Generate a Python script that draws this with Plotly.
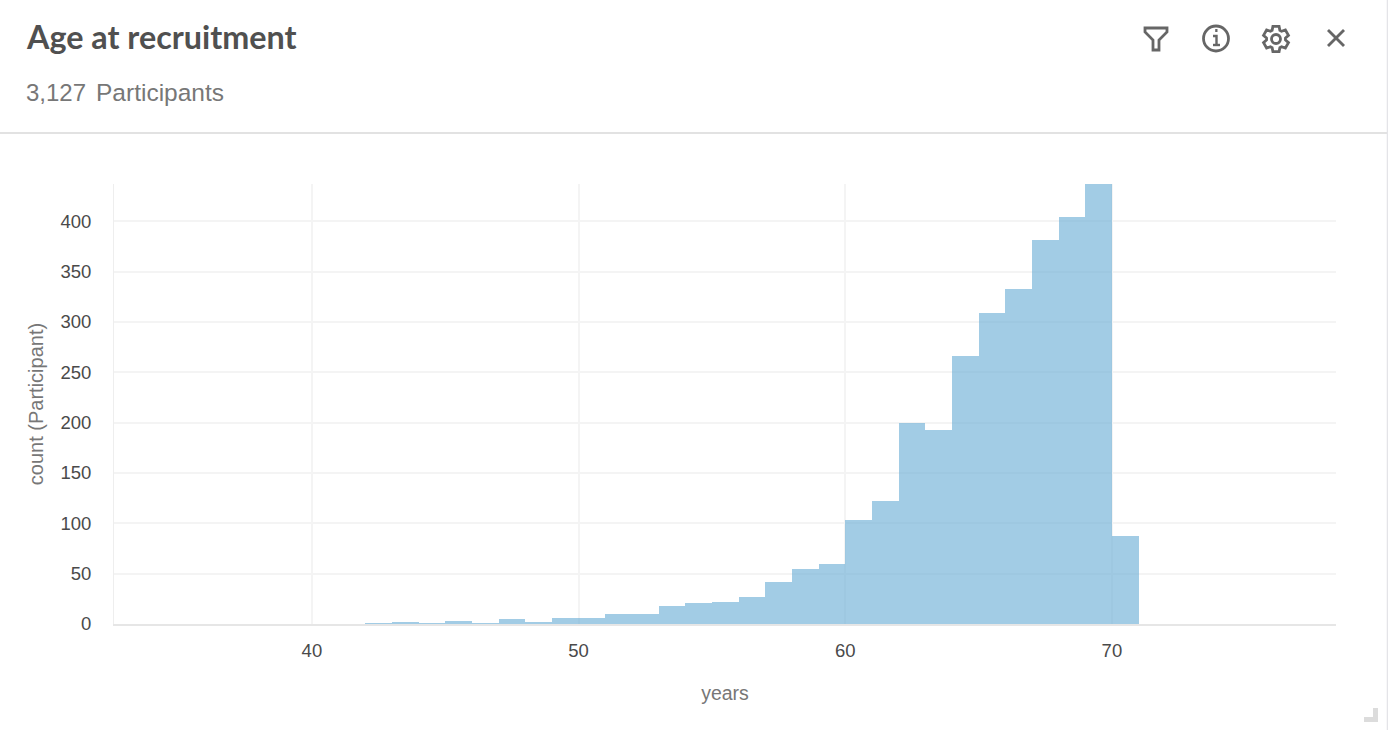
import math
import plotly.graph_objects as go

W, H = 1388, 730

bin_starts = list(range(42, 71))
counts = [1, 2, 1, 3, 1, 5, 2, 6, 6, 10, 10, 18, 21, 22, 27, 42, 55, 60, 103,
          122, 200, 193, 266, 309, 333, 381, 404, 437, 87]
x_ticks = [40, 50, 60, 70]
y_ticks = [0, 50, 100, 150, 200, 250, 300, 350, 400]


def px(x):
    return x / W


def py(y):
    return 1 - y / H


def path(points, close=False):
    s = " ".join(("M" if i == 0 else "L") + f"{px(a):.5f},{py(b):.5f}" for i, (a, b) in enumerate(points))
    return s + (" Z" if close else "")


def line_shape(points, color="#666666", width=2.8, close=False, fill=None):
    return dict(type="path", xref="paper", yref="paper", path=path(points, close),
                line=dict(color=color, width=width), fillcolor=fill, layer="above")


def circle_shape(cx, cy, r, color="#666666", width=2.8):
    return dict(type="circle", xref="paper", yref="paper", x0=px(cx - r), x1=px(cx + r),
                y0=py(cy + r), y1=py(cy - r), line=dict(color=color, width=width))


# gear outline for the settings icon
def gear(cx, cy, r_out, r_in, teeth=6):
    pts = []
    step = 2 * math.pi / teeth
    for i in range(teeth):
        a = i * step - math.pi / 2
        for da, r in [(-0.42, r_in), (-0.24, r_out), (0.24, r_out), (0.42, r_in)]:
            pts.append((cx + r * math.cos(a + da), cy + r * math.sin(a + da)))
    return pts


shapes = [
    # card edges
    dict(type="line", xref="paper", yref="paper", x0=0, x1=1, y0=py(133), y1=py(133),
         line=dict(color="#e2e2e2", width=2)),
    dict(type="line", xref="paper", yref="paper", x0=px(1387.5), x1=px(1387.5), y0=0, y1=1,
         line=dict(color="#e4e4e8", width=1.5)),
    # filter icon
    line_shape([(1145, 28), (1167, 28), (1167, 32), (1159, 40), (1159, 50), (1153, 50), (1153, 40), (1145, 32)], close=True),
    # info icon
    circle_shape(1216, 38.5, 12.5),
    line_shape([(1213, 36), (1216.5, 36), (1216.5, 45)], width=2.4),
    line_shape([(1213, 45), (1220, 45)], width=2.4),
    line_shape([(1215.2, 30.5), (1217.5, 30.5)], width=3),
    # settings icon
    line_shape(gear(1276, 39, 13, 9.5), close=True),
    circle_shape(1276, 39, 4.5),
    # close icon
    line_shape([(1328, 30), (1344, 46)]),
    line_shape([(1344, 30), (1328, 46)]),
    # resize handle
    dict(type="path", xref="paper", yref="paper",
         path=path([(1364, 722), (1378, 722), (1378, 708), (1373, 708), (1373, 717), (1364, 717)], True),
         line=dict(width=0), fillcolor="#dcdcdc"),
]

annotations = [
    dict(text="<b>Age at recruitment</b>", x=px(23.5), y=py(36), xanchor="left", yanchor="middle",
         font=dict(family="Lato", size=32.3, color="#505050")),
    dict(text="3,127", x=px(24), y=py(93), xanchor="left", yanchor="middle",
         font=dict(family="Liberation Sans", size=24, color="#777777")),
    dict(text="Participants", x=px(93.5), y=py(93), xanchor="left", yanchor="middle",
         font=dict(family="Liberation Sans", size=24.5, color="#777777")),
]
for a in annotations:
    a.update(xref="paper", yref="paper", showarrow=False)

fig = go.Figure(go.Bar(
    x=bin_starts,
    y=counts,
    width=1,
    offset=0,
    marker=dict(color="rgba(107,174,214,0.63)", line=dict(width=0)),
))

fig.update_layout(
    width=W,
    height=H,
    margin=dict(l=0, r=0, t=0, b=0, pad=0),
    paper_bgcolor="white",
    plot_bgcolor="white",
    showlegend=False,
    bargap=0,
    font=dict(family="Liberation Sans", color="#444444"),
    shapes=shapes,
    annotations=annotations,
    xaxis=dict(
        domain=[114 / W, 1336 / W],
        range=[32.58, 78.405],
        tickvals=x_ticks,
        ticks="outside", ticklen=9, tickcolor="rgba(0,0,0,0)",
        tickfont=dict(size=18.5, color="#4a4a4a"),
        showgrid=True, gridcolor="#f4f4f4", gridwidth=2,
        showline=True, linecolor="#e6e6e6", linewidth=2,
        zeroline=False,
        automargin=False,
        title=dict(text="years", standoff=26, font=dict(size=19.5, color="#777777")),
    ),
    yaxis=dict(
        domain=[(H - 624) / H, (H - 184) / H],
        range=[0, 437],
        tickvals=y_ticks,
        ticks="outside", ticklen=18, tickcolor="rgba(0,0,0,0)",
        tickfont=dict(size=18.5, color="#4a4a4a"),
        showgrid=True, gridcolor="#f4f4f4", gridwidth=2,
        showline=True, linecolor="#eeeeee", linewidth=1,
        zeroline=False,
        automargin=False,
        title=dict(text="count (Participant)", standoff=11, font=dict(size=20, color="#777777")),
    ),
)

fig.write_html("out.html", post_script="document.body.style.margin='0';document.body.style.overflow='hidden';",
               config=dict(displayModeBar=False))
